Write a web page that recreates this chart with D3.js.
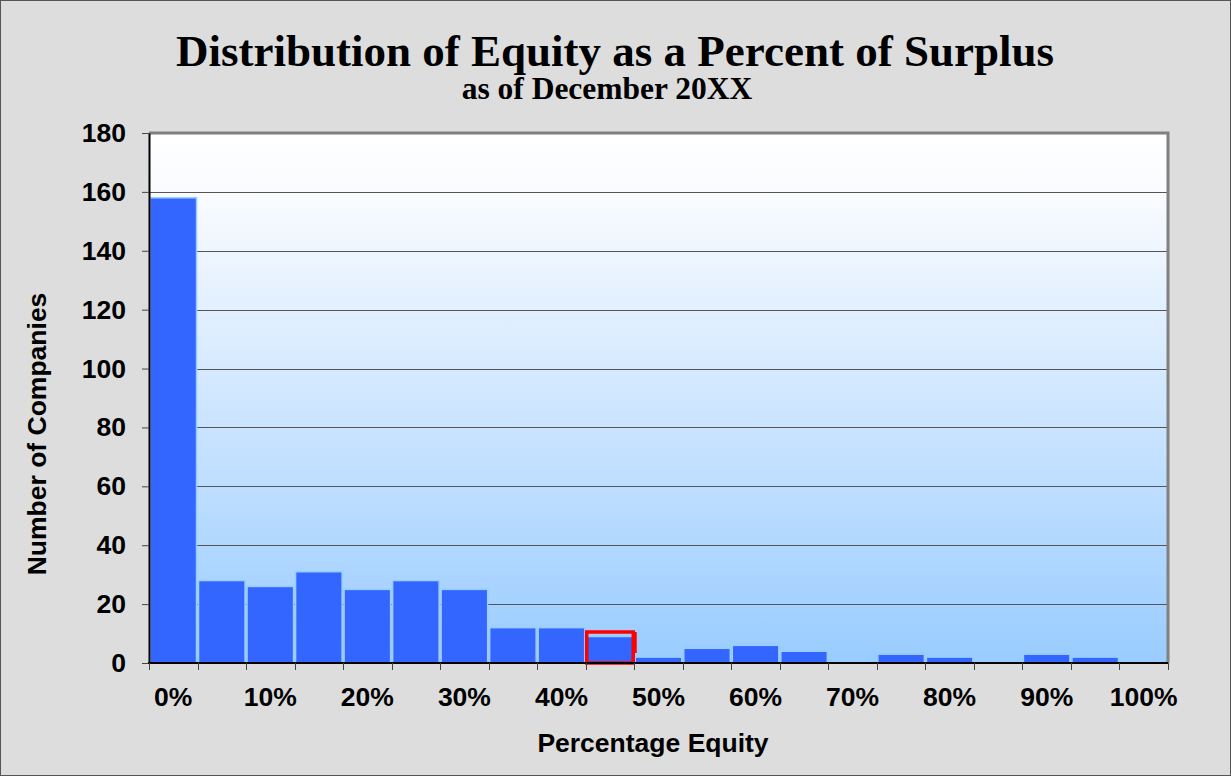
<!DOCTYPE html>
<html>
<head>
<meta charset="utf-8">
<script src="https://cdn.jsdelivr.net/npm/d3@7"></script>
<style>
  html, body { margin: 0; padding: 0; background: #dddddd; }
  svg { display: block; }
</style>
</head>
<body>
<svg id="chart" width="1231" height="776"></svg>
<script>
// Histogram buckets: share of surplus held in equity, 5% steps
const categories = ["0%","5%","10%","15%","20%","25%","30%","35%","40%","45%","50%",
                    "55%","60%","65%","70%","75%","80%","85%","90%","95%","100%"];
const companyCounts = [158, 28, 26, 31, 25, 28, 25, 12, 12, 9, 2,
                       5, 6, 4, 0, 3, 2, 0, 3, 2, 0];
const xTickLabels = ["0%","10%","20%","30%","40%","50%","60%","70%","80%","90%","100%"];
const yTicks = [0, 20, 40, 60, 80, 100, 120, 140, 160, 180];
const highlighted = "45%";

const W = 1231, H = 776;
const plot = { left: 149, right: 1168, top: 133, bottom: 663 };
const sans = "'Liberation Sans', Arial, sans-serif";
const serif = "'Liberation Serif', 'Times New Roman', serif";
const axisFont = 26.5;

const svg = d3.select("#chart");

// chart background and frame
svg.append("rect").attr("x", 0.5).attr("y", 0.5).attr("width", W - 1).attr("height", H - 1)
  .attr("fill", "#dddddd").attr("stroke", "#555555").attr("stroke-width", 1);

const defs = svg.append("defs");
const grad = defs.append("linearGradient").attr("id", "plotFill")
  .attr("x1", 0).attr("y1", 0).attr("x2", 0).attr("y2", 1);
grad.append("stop").attr("offset", "0%").attr("stop-color", "#ffffff");
grad.append("stop").attr("offset", "12%").attr("stop-color", "#f9fbff");
grad.append("stop").attr("offset", "100%").attr("stop-color", "#99ccff");

const x = d3.scaleBand().domain(categories).range([plot.left, plot.right]).padding(0);
const y = d3.scaleLinear().domain([0, 180]).range([plot.bottom, plot.top]);

// plot area
svg.append("rect")
  .attr("x", plot.left).attr("y", plot.top)
  .attr("width", plot.right - plot.left).attr("height", plot.bottom - plot.top)
  .attr("fill", "url(#plotFill)");

// horizontal gridlines
svg.append("g").selectAll("line")
  .data(yTicks.filter(v => v > 0 && v < 180))
  .join("line")
  .attr("x1", plot.left).attr("x2", plot.right)
  .attr("y1", d => Math.round(y(d)) + 0.5).attr("y2", d => Math.round(y(d)) + 0.5)
  .attr("stroke", "#555555").attr("stroke-width", 1);

// top and right border of the plot area
svg.append("path")
  .attr("d", `M${plot.left},${plot.top} H${plot.right} V${plot.bottom}`)
  .attr("fill", "none").attr("stroke", "#808080").attr("stroke-width", 3);

// bars
svg.append("g").selectAll("rect")
  .data(categories.map((c, i) => ({ c, v: companyCounts[i] })))
  .join("rect")
  .attr("x", d => x(d.c) + 1)
  .attr("width", x.bandwidth() - 2)
  .attr("y", d => y(d.v))
  .attr("height", d => y(0) - y(d.v))
  .attr("fill", "#3366ff")
  .attr("stroke", "#99ccff")
  .attr("stroke-width", 1.5);

// red highlight around the 45% bucket
const hi = companyCounts[categories.indexOf(highlighted)];
const hx0 = x(highlighted) + 1, hx1 = x(highlighted) + x.bandwidth() - 1;
const hy0 = y(hi) - 4.5;
svg.append("rect")
  .attr("x", hx0).attr("y", hy0)
  .attr("width", hx1 - hx0).attr("height", y(0) - hy0)
  .attr("fill", "none").attr("stroke", "#ff0000").attr("stroke-width", 3.5);
svg.append("line")
  .attr("x1", hx1 + 2).attr("x2", hx1 + 2)
  .attr("y1", hy0).attr("y2", hy0 + 21)
  .attr("stroke", "#ff0000").attr("stroke-width", 3);

// y axis
const yAxis = svg.append("g").attr("transform", `translate(${plot.left},0)`)
  .call(d3.axisLeft(y).tickValues(yTicks).tickSize(7).tickSizeOuter(0).tickPadding(16));
yAxis.select(".domain").attr("stroke", "#000").attr("stroke-width", 2);
yAxis.selectAll(".tick line").attr("stroke", "#444");
yAxis.selectAll(".tick text")
  .attr("font-family", sans)
  .attr("font-weight", "bold").attr("font-size", axisFont).attr("fill", "#000");

// x axis: ticks on every bucket boundary, labels on every 10%
const xa = svg.append("g");
xa.append("line")
  .attr("x1", plot.left - 1).attr("x2", plot.right)
  .attr("y1", plot.bottom).attr("y2", plot.bottom)
  .attr("stroke", "#000").attr("stroke-width", 2);
const bounds = categories.map(c => x(c)).concat([plot.right]);
xa.selectAll("line.tk").data(bounds).join("line").attr("class", "tk")
  .attr("x1", d => Math.round(d) + 0.5).attr("x2", d => Math.round(d) + 0.5)
  .attr("y1", plot.bottom).attr("y2", plot.bottom + 7)
  .attr("stroke", "#444").attr("stroke-width", 1);
xa.selectAll("text").data(xTickLabels).join("text")
  .attr("x", d => x(d) + x.bandwidth() / 2)
  .attr("y", 706)
  .attr("text-anchor", "middle")
  .attr("font-family", sans)
  .attr("font-weight", "bold").attr("font-size", axisFont).attr("fill", "#000")
  .text(d => d);

// axis titles
svg.append("text")
  .attr("x", 653).attr("y", 752).attr("text-anchor", "middle")
  .attr("font-family", sans)
  .attr("font-weight", "bold").attr("font-size", axisFont).attr("fill", "#000")
  .text("Percentage Equity");
svg.append("text")
  .attr("transform", "translate(46,434) rotate(-90)").attr("text-anchor", "middle")
  .attr("font-family", sans)
  .attr("font-weight", "bold").attr("font-size", axisFont).attr("fill", "#000")
  .text("Number of Companies");

// titles
svg.append("text")
  .attr("x", 615).attr("y", 66).attr("text-anchor", "middle")
  .attr("font-family", serif)
  .attr("font-weight", "bold").attr("font-size", 45).attr("fill", "#000")
  .text("Distribution of Equity as a Percent of Surplus");
svg.append("text")
  .attr("x", 607).attr("y", 99).attr("text-anchor", "middle")
  .attr("font-family", serif)
  .attr("font-weight", "bold").attr("font-size", 31.5).attr("fill", "#000")
  .text("as of December 20XX");
</script>
</body>
</html>
